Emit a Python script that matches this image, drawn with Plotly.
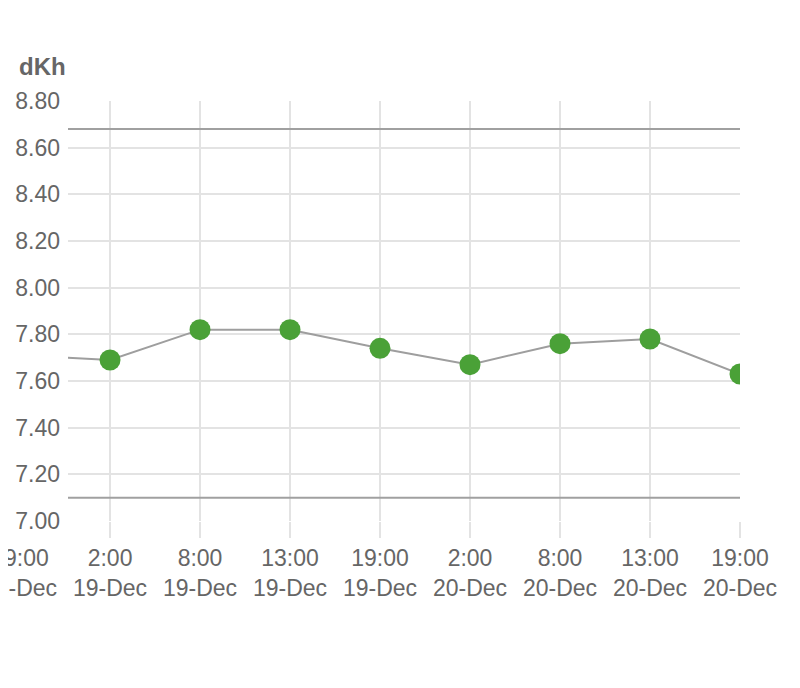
import plotly.graph_objects as go

# data
hours = ['19:00', '2:00', '8:00', '13:00', '19:00', '2:00', '8:00', '13:00', '19:00']
days = ['18-Dec', '19-Dec', '19-Dec', '19-Dec', '19-Dec', '20-Dec', '20-Dec', '20-Dec', '20-Dec']
dkh = [7.71, 7.69, 7.82, 7.82, 7.74, 7.67, 7.76, 7.78, 7.63]
limite_sup = 8.68
limite_inf = 7.10

idx = list(range(-1, len(dkh) - 1))
etiquetas = [h + '<br>' + d for h, d in zip(hours, days)]

gris = '#666666'
fuente = 'Liberation Sans, Arial, sans-serif'

ancho, izq, der = 792, 60, 60
ancho_papel = ancho - der            # margen izquierdo 0, el eje y va dentro del papel
x_rango = [-0.467, idx[-1]]
y_rango = [7.0, 8.8]
px_por_unidad = (ancho_papel - izq) / (x_rango[1] - x_rango[0])
x2_rango = [x_rango[1] - ancho_papel / px_por_unidad, x_rango[1]]

fig = go.Figure()
fig.add_trace(go.Scatter(
    x=idx, y=dkh,
    mode='lines+markers',
    line=dict(color='#9e9e9e', width=2),
    marker=dict(color='#4aa137', size=21),
    hoverinfo='skip',
))
# subplot auxiliar (invisible) solo para la etiqueta cortada de la izquierda
fig.add_trace(go.Scatter(
    x=[idx[0]], y=[dkh[0]], xaxis='x2', yaxis='y2', mode='markers',
    marker=dict(opacity=0), hoverinfo='skip',
))

for v in [limite_sup, limite_inf]:
    fig.add_shape(type='line', xref='x domain', yref='y', x0=0, x1=1, y0=v, y1=v,
                  line=dict(color='#a0a0a0', width=2), layer='above')

fig.add_annotation(x=9 / ancho_papel, xref='paper', y=1.081, yref='paper',
                   xanchor='left', yanchor='middle', text='<b>dKh</b>',
                   showarrow=False, font=dict(size=24, color=gris, family=fuente))

fig.update_layout(
    width=ancho, height=680,
    margin=dict(l=0, r=der, t=93, b=167, pad=0),
    plot_bgcolor='rgba(0,0,0,0)', paper_bgcolor='#fff',
    showlegend=False,
    font=dict(family=fuente, size=23, color=gris),
    xaxis=dict(
        domain=[izq / ancho_papel, 1],
        range=x_rango, automargin=False,
        tickmode='array', tickvals=idx[1:], ticktext=etiquetas[1:],
        showgrid=True, gridcolor='#e3e3e3', gridwidth=1.5,
        ticks='outside', ticklen=16, tickcolor='#e3e3e3', tickwidth=1.5,
        zeroline=False, showline=False, ticklabeloverflow='allow',
    ),
    xaxis2=dict(
        domain=[0, 1], anchor='y2', side='bottom',
        range=x2_rango, automargin=False,
        tickmode='array', tickvals=idx[:1], ticktext=etiquetas[:1],
        showgrid=False, zeroline=False, showline=False,
        ticks='outside', ticklen=16, tickcolor='rgba(0,0,0,0)',
        ticklabeloverflow='allow',
    ),
    yaxis=dict(
        range=y_rango, dtick=0.2, tickformat='.2f', automargin=False,
        showgrid=True, gridcolor='#e3e3e3', gridwidth=1.5,
        zeroline=False, showline=False, ticks='', ticklabelstandoff=7,
    ),
    yaxis2=dict(
        domain=[0, 1], anchor='x2', range=y_rango, automargin=False,
        showgrid=False, zeroline=False, showline=False, showticklabels=False,
    ),
)

fig.write_html('out.html')
